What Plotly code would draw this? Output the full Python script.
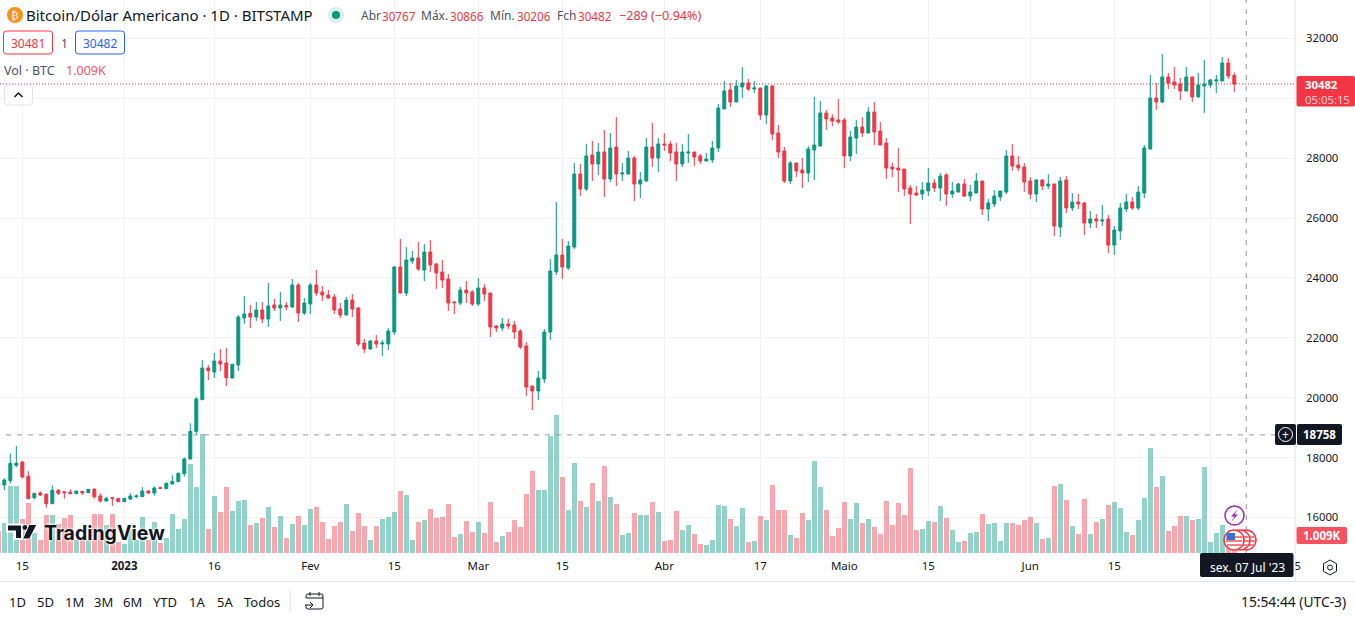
import pandas as pd
import plotly.graph_objects as go

W, H = 1355, 617
FONT = "Noto Sans"
UP = "#089981"
DOWN = "#f23645"
INK = "#131722"

start_date = "2022-12-11"

opens = [
    17138,17082,17227,17739,17851,17372,16659,16815,16770,16459,16904,16859,16848,16793,16871,16826,16937,16715,16548,16659,16637,
    16525,16614,16692,16692,16882,16815,16993,16960,17116,17194,17461,17951,18875,19933,20991,20858,21225,21158,20657,21092,22662,22818,22695,22929,22628,23096,22996,23085,23029,23764,22829,
    23130,23764,23531,23430,23363,22963,22762,23263,22996,21827,21626,21893,21793,21793,22194,24366,23497,24566,24667,24266,24867,24466,24199,23965,23196,23163,23597,23531,
    23130,23664,23497,22395,22328,22461,22428,22227,21726,20390,20223,20624,22194,24199,24767,24332,25034,27473,26972,28108,27807,28208,27306,28375,27473,27473,28008,27139,27239,28375,28008,
    28475,28475,28208,27807,28175,28208,28075,27908,27941,28342,29645,30280,29879,30380,30514,30313,30346,29444,30413,28843,28242,27239,27841,27607,27507,28275,28409,29511,29344,29277,
    29277,28074,28675,29043,28842,29544,28909,28508,27706,27673,27640,27005,26838,26804,26905,27172,27005,27439,26804,26871,27138,26737,26838,27239,26303,26470,26704,26871,28074,27773,27706,
    27239,26804,27272,27071,27138,25702,27272,26337,26537,26504,25835,25969,25902,25969,25100,25568,26303,26537,26337,26838,28308,30012,29878,30714,30547,30480,30246,30714,30046,30413,
    30447,30580,30580,31182,30767,
]
highs = [
    17194,17305,18140,18385,17884,17539,16810,16871,16804,17071,16949,16871,16937,16885,16885,16949,16982,16804,16692,16670,16648,
    16648,16804,16770,17015,16915,17038,17027,17171,17405,17505,18007,19143,20022,21259,21092,21492,21626,21660,21125,22762,23397,23096,23196,23196,23831,23297,23531,23196,23965,23831,23330,
    23831,24266,23731,23597,23464,23163,23363,23464,23029,21960,21927,22094,21927,22328,24399,25301,25034,24900,25201,25134,25268,24499,24600,24132,23230,23698,23898,23597,
    23998,23798,23497,22428,22662,22628,22562,22294,21860,20390,20891,22294,24633,26538,25301,25234,27841,27807,28475,28576,28509,28943,28843,29378,27841,28242,28075,27540,28676,29177,28676,
    28843,28576,28509,28475,28810,28208,28141,28175,28576,29812,30580,30514,30614,31048,30647,30580,30346,30447,30447,29110,28375,27908,27841,28008,28409,30046,29912,29611,29478,29979,
    29344,28909,29277,29377,29711,29878,29210,28675,27840,28341,27640,27105,27071,27205,27673,27305,27506,27506,27205,27172,27305,27105,27506,27239,26637,26938,26905,28274,28475,28074,27840,
    27372,27305,27305,27472,27138,27372,27406,26838,26804,26537,26236,26136,26437,26103,25735,26504,26805,26704,27072,28442,30781,30513,31482,30847,31048,30680,31048,30714,30847,31282,
    30647,30781,31382,31349,30866,
]
lows = [
    17027,16915,17138,17672,17305,16610,16603,16715,16325,16450,16748,16626,16770,16782,16748,16815,16626,16492,16525,16381,16514,
    16514,16581,16648,16680,16782,16726,16949,16949,17100,17182,17361,17940,18786,19922,20590,20657,20891,20390,20650,20891,22461,22328,22562,22495,22361,22896,22562,22929,22996,22528,22762,
    22795,23397,23230,23297,22795,22662,22750,22695,21726,21492,21615,21660,21392,21593,22094,23480,23397,24466,24232,23898,24199,23631,23664,22896,22795,23096,23163,23063,
    23063,23230,22027,22194,22227,22294,21960,21626,20056,19588,19922,20490,21927,24098,23965,24266,24967,26738,26905,27239,27440,26705,27206,27072,27239,27460,26571,26671,27220,27707,27540,
    28242,27907,27239,27707,27841,27741,27807,27890,27841,28208,29640,29712,29870,30012,30246,30179,29277,29144,28609,28008,27172,27139,27373,27005,27206,27273,28400,28943,29077,29144,
    27673,27907,28141,28709,28830,28441,28430,27305,27372,26871,26737,25802,26737,26604,26737,26871,26570,26403,26671,26860,26704,26570,26825,26103,25902,26370,26570,26804,27573,27573,26871,
    26637,26537,26938,26971,25401,25368,26170,26236,26303,25435,25668,25668,25735,24833,24766,25268,26203,26270,26270,26671,28300,29611,29845,30313,30313,29945,30235,29878,30035,29511,
    30346,30179,30570,30647,30206,
]
closes = [
    17082,17249,17806,17806,17349,16626,16804,16748,16459,16904,16804,16826,16793,16882,16815,16937,16692,16548,16637,16637,16525,
    16637,16715,16715,16882,16815,16982,16971,17138,17205,17472,17951,18875,19956,20991,20902,21225,21125,20668,21114,22695,22795,22695,22929,22628,23063,22996,23096,23029,23764,22829,23163,
    23764,23497,23430,23330,22929,22762,23263,22963,21793,21626,21893,21793,21827,22227,24366,23497,24600,24667,24299,24867,24433,24165,23931,23163,23174,23597,23497,23130,
    23664,23464,22361,22328,22461,22395,22194,21693,20356,20223,20657,22194,24232,24767,24366,25067,27473,26972,28075,27807,28208,27306,28342,27473,27507,28008,27139,27273,28375,28008,28475,
    28442,28175,27807,28208,28208,28041,27908,27974,28342,29678,30246,29879,30413,30514,30313,30346,29444,30413,28810,28208,27239,27841,27573,27507,28308,28442,29511,29311,29244,29211,
    28074,28709,29043,28842,29544,28876,28441,27673,27640,27606,26971,26804,26771,26938,27172,27005,27406,26804,26905,27138,26737,26871,27239,26303,26504,26737,26905,28074,27740,27673,27205,
    26804,27272,27071,27138,25735,27239,26337,26537,26470,25835,25969,25902,25936,25100,25601,26337,26537,26337,26871,28342,30012,29878,30714,30513,30447,30246,30714,30046,30447,30480,
    30614,30614,31182,30747,30482,
]
# volume in thousands of BTC
volumes = [
    1.31,1.78,3.98,3.98,2.02,2.97,1.17,0.77,2.26,2.26,1.72,2.08,2.26,0.77,0.77,0.77,2.32,2.32,1.66,2.32,0.65,
    0.53,1.37,0.77,2.14,0.77,1.84,0.59,0.89,2.32,1.43,2.02,5.29,3.92,7.07,1.43,3.39,2.44,3.92,2.49,3.09,3.15,1.66,1.78,2.08,2.73,1.54,2.20,0.89,1.72,2.20,1.66,
    2.61,2.73,1.84,0.83,1.60,1.84,2.91,1.31,2.38,1.60,0.77,1.60,2.02,2.14,2.44,3.68,3.45,0.77,1.84,1.96,2.61,2.08,2.14,2.91,0.95,1.13,1.90,1.25,
    1.84,1.19,3.03,0.65,1.01,1.25,1.96,1.54,3.50,4.87,3.74,3.74,6.95,8.20,4.51,2.55,5.35,3.09,2.73,4.16,3.09,5.17,3.33,2.91,1.07,1.19,2.38,2.26,2.26,3.03,2.44,
    0.71,0.77,2.49,1.37,1.66,1.13,0.53,0.48,0.77,2.85,2.79,2.02,1.60,2.67,0.65,0.71,2.20,1.96,4.04,2.55,2.55,1.07,0.89,2.38,1.96,5.46,3.92,2.55,1.01,1.49,
    3.03,2.02,2.97,1.78,2.02,1.54,1.13,3.09,1.66,2.97,2.26,5.05,1.37,1.43,1.90,1.84,2.79,2.08,1.37,0.65,0.71,1.19,1.25,2.32,1.72,1.78,0.71,1.78,1.78,1.66,1.96,
    2.14,1.78,0.83,0.89,3.98,4.10,3.15,1.60,1.13,3.21,1.13,1.84,2.02,2.85,3.03,2.67,1.25,1.07,1.96,3.27,6.24,3.92,4.57,1.31,1.60,2.20,2.20,1.96,2.02,5.11,
    0.65,1.19,1.66,0.97,1.009,
]

assert len({len(opens), len(highs), len(lows), len(closes), len(volumes)}) == 1, (
    len(opens), len(highs), len(lows), len(closes), len(volumes))

last_price = 30482
crosshair_price = 18758
crosshair_date = "2023-07-07"

time_ticks = ["2022-12-15", "2023-01-01", "2023-01-16", "2023-02-01", "2023-02-15", "2023-03-01", "2023-03-15",
              "2023-04-01", "2023-04-17", "2023-05-01", "2023-05-15", "2023-06-01", "2023-06-15", "2023-07-01", "2023-07-15"]
# the July label sits under the crosshair date box in the picture
time_labels = ["15", "<b>2023</b>", "16", "Fev", "15", "Mar", "15", "Abr", "17", "Maio", "15", "Jun", "15", "", "15"]
price_ticks = [16000, 18000, 20000, 22000, 24000, 26000, 28000, 30000, 32000]
# 30000 sits under the red last price tag
price_labels = ["16000", "18000", "20000", "22000", "24000", "26000", "28000", "", "32000"]
range_buttons = ["1D", "5D", "1M", "3M", "6M", "YTD", "1A", "5A", "Todos"]
button_centres = [17, 45, 74, 103, 132, 165, 197, 225, 262]

dates = pd.date_range(start_date, periods=len(opens), freq="D")
vol_colors = ["rgba(8,153,129,0.43)" if c >= o else "rgba(242,54,69,0.43)" for o, c in zip(opens, closes)]


def px(x):
    return x / W


def py(y):
    return 1 - y / H


def label(x, y, text, size=12, color=INK, anchor="left", font=FONT, **extra):
    fig.add_annotation(x=px(x), y=py(y), xref="paper", yref="paper", text=text, showarrow=False,
                       xanchor=anchor, yanchor="middle", borderpad=0, borderwidth=0, align=anchor if anchor != "center" else "center",
                       font=dict(family=font, size=size, color=color, **extra))


def box(x0, y0, x1, y1, fill="rgba(0,0,0,0)", line=None, width=1, r=0):
    if r:
        path = (f"M {px(x0 + r)} {py(y0)} L {px(x1 - r)} {py(y0)} Q {px(x1)} {py(y0)} {px(x1)} {py(y0 + r)} "
                f"L {px(x1)} {py(y1 - r)} Q {px(x1)} {py(y1)} {px(x1 - r)} {py(y1)} "
                f"L {px(x0 + r)} {py(y1)} Q {px(x0)} {py(y1)} {px(x0)} {py(y1 - r)} "
                f"L {px(x0)} {py(y0 + r)} Q {px(x0)} {py(y0)} {px(x0 + r)} {py(y0)} Z")
        fig.add_shape(type="path", path=path, xref="paper", yref="paper", fillcolor=fill,
                      line=dict(color=line or fill, width=width if line else 0))
    else:
        fig.add_shape(type="rect", x0=px(x0), x1=px(x1), y0=py(y0), y1=py(y1), xref="paper", yref="paper",
                      fillcolor=fill, line=dict(color=line or fill, width=width if line else 0))


def circle(cx, cy, r, fill="rgba(0,0,0,0)", line=None, width=1):
    fig.add_shape(type="circle", x0=px(cx - r), x1=px(cx + r), y0=py(cy - r), y1=py(cy + r),
                  xref="paper", yref="paper", fillcolor=fill,
                  line=dict(color=line or fill, width=width if line else 0))


def poly(points, fill="rgba(0,0,0,0)", line=None, width=1, closed=True):
    path = "M " + " L ".join(f"{px(x)} {py(y)}" for x, y in points) + (" Z" if closed else "")
    fig.add_shape(type="path", path=path, xref="paper", yref="paper", fillcolor=fill,
                  line=dict(color=line or fill, width=width if line else 0))


fig = go.Figure()
fig.add_trace(go.Bar(x=dates, y=volumes, marker=dict(color=vol_colors, line=dict(width=0)),
                     width=5 / 6 * 86400000, yaxis="y", hoverinfo="skip"))
fig.add_trace(go.Candlestick(x=dates, open=opens, high=highs, low=lows, close=closes, yaxis="y2",
                             whiskerwidth=0,
                             increasing=dict(line=dict(color=UP, width=1), fillcolor=UP),
                             decreasing=dict(line=dict(color=DOWN, width=1), fillcolor=DOWN)))

pane_bottom = 1 - 553 / H
fig.update_layout(
    width=W, height=H, autosize=False, margin=dict(l=0, r=0, t=0, b=0, autoexpand=False),
    paper_bgcolor="white", plot_bgcolor="white", showlegend=False, bargap=0, boxgap=0.3,
    font=dict(family=FONT, size=12, color=INK),
    xaxis=dict(domain=[0, 1295 / W], type="date", range=["2022-12-11 06:43", "2023-07-15 02:53"],
               tickmode="array", tickvals=time_ticks, ticktext=time_labels, ticks="", ticklabelstandoff=4,
               showgrid=True, gridcolor="#f1f2f4", gridwidth=1, showline=False, zeroline=False,
               rangeslider=dict(visible=False), tickfont=dict(size=11.5, color=INK)),
    yaxis=dict(domain=[pane_bottom, 1], range=[0, 32.85], visible=False, showgrid=False, fixedrange=True),
    yaxis2=dict(domain=[pane_bottom, 1], overlaying="y", side="right", anchor="x", range=[14811, 33286],
                tickmode="array", tickvals=price_ticks, ticktext=price_labels, ticks="", ticklabelstandoff=10,
                showgrid=True, gridcolor="#f1f2f4", gridwidth=1, showline=False, zeroline=False,
                tickfont=dict(size=11.3, color=INK)),
)

# price and crosshair lines
fig.add_shape(type="line", xref="paper", yref="y2", x0=0, x1=px(1295), y0=last_price, y1=last_price,
              line=dict(color=DOWN, width=1, dash="1px,2px"))
fig.add_shape(type="line", xref="paper", yref="y2", x0=px(6), x1=px(1295), y0=crosshair_price, y1=crosshair_price,
              line=dict(color="#9598a1", width=1, dash="5px,6px"))
fig.add_shape(type="line", xref="x", yref="paper", x0=crosshair_date, x1=crosshair_date, y0=pane_bottom, y1=1,
              line=dict(color="#9598a1", width=1, dash="5px,6px"))

# frame lines
fig.add_shape(type="line", xref="paper", yref="paper", x0=px(1295), x1=px(1295), y0=py(581), y1=1,
              line=dict(color="#e0e3eb", width=1))
fig.add_shape(type="line", xref="paper", yref="paper", x0=0, x1=1, y0=py(581.5), y1=py(581.5),
              line=dict(color="#e0e3eb", width=1))

# header
circle(15, 15, 8, fill="#f7931a")
label(15, 15, "₿", size=11, color="white", anchor="center", font="DejaVu Sans")
label(26, 15.5, "Bitcoin/Dólar Americano · 1D · BITSTAMP", size=15)
circle(336, 15, 8, fill="#d9f0ec")
circle(336, 15, 4, fill=UP)
for x, key, x2, value in [(361, "Abr", 382, "30767"), (421, "Máx.", 450, "30866"),
                          (490, "Mín.", 516.5, "30206"), (556.5, "Fch", 578, "30482")]:
    label(x, 16, key, size=12, color="#50535e")
    label(x2, 16, value, size=11.7, color=DOWN)
label(618.5, 16, "−289 (−0.94%)", size=12.6, color=DOWN)

box(3.5, 31, 52.5, 54, fill="white", line=DOWN, width=1, r=3)
label(28, 43, "30481", size=12, color=DOWN, anchor="center")
label(64, 43, "1", size=12, color="#50535e", anchor="center")
box(75.5, 31, 124.5, 54, fill="white", line="#2962ff", width=1, r=3)
label(100, 43, "30482", size=12, color="#2962ff", anchor="center")

label(4, 71, "Vol · BTC", size=12.5, color="#50535e")
label(65.5, 71, "1.009K", size=12.5, color="#f7525f")

box(4.5, 85, 32.5, 105, fill="white", line="#e0e3eb", width=1, r=3)
poly([(14.5, 97), (18.5, 93), (22.5, 97)], line=INK, width=1.5, closed=False)

# right side tags
box(1296.5, 76, 1355, 106.5, fill=DOWN, r=2)
label(1305, 91.5, "<b>30482</b><br><span style='color:#fbd0d3'>05:05:15</span>", size=11.3, color="white")
box(1275, 424, 1296, 445, fill=INK, r=2)
circle(1285.5, 434.5, 7, line="white", width=1)
label(1285.5, 434, "+", size=12, color="white", anchor="center")
box(1297, 424, 1342, 445, fill=INK, r=2)
label(1319.5, 434.5, "<b>18758</b>", size=11.5, color="white", anchor="center")
box(1296.5, 527, 1347, 544, fill="#f7525f", r=2)
label(1322, 535.5, "<b>1.009K</b>", size=11.5, color="white", anchor="center")
box(1200, 553, 1293.5, 577, fill=INK, r=2)
label(1247, 567, "sex. 07 Jul '23", size=12, color="white", anchor="center")

# event icons
circle(1234.5, 515.5, 9.5, fill="white", line="#9c27b0", width=1.5)
poly([(1238, 509), (1231, 516.5), (1234.5, 516.5), (1231, 522), (1238, 514.5), (1234.5, 514.5)], fill="#9c27b0")
for cx in [1246, 1240]:
    circle(cx, 540, 10, fill="white", line=DOWN, width=1.5)
    box(cx + 1, 536, cx + 8, 538, fill="#f77c80")
    box(cx + 1, 540, cx + 9, 542, fill="#f77c80")
    box(cx + 1, 544, cx + 7, 546, fill="#f77c80")
circle(1234, 540, 10, fill="white", line=DOWN, width=1.5)
box(1228, 536, 1242, 538, fill="#f77c80")
box(1226, 540, 1242, 542, fill="#f77c80")
box(1227, 544, 1241, 546, fill="#f77c80")
box(1226.5, 533, 1235, 540, fill="#3a6fd8")

# logo
logo = "#131722"
poly([(7, 524.5), (22, 524.5), (22, 539), (15, 539), (15, 531.5), (7, 531.5)], fill=logo, line="white", width=2)
circle(25, 527.5, 3, fill=logo, line="white", width=1)
poly([(29, 524.5), (37, 524.5), (29.5, 539), (22.5, 539)], fill=logo, line="white", width=1)
label(44, 532.5, "<b>TradingView</b>", size=19.5, color=logo, font="Inter", shadow="white 0 0 3px, white 0 0 3px")

# settings hexagon
poly([(1330, 560), (1336.5, 563.7), (1336.5, 571.3), (1330, 575), (1323.5, 571.3), (1323.5, 563.7)], line="#131722", width=1)
circle(1330, 567.5, 2.5, line="#131722", width=1)

# bottom toolbar
for text, cx in zip(range_buttons, button_centres):
    label(cx, 601.5, text, size=13, anchor="center")
fig.add_shape(type="line", xref="paper", yref="paper", x0=px(290), x1=px(290), y0=py(590), y1=py(612),
              line=dict(color="#e0e3eb", width=1))
box(306, 594, 323, 609, line=INK, width=1, r=2)
box(303, 598, 313, 605, fill="white")
fig.add_shape(type="line", xref="paper", yref="paper", x0=px(306), x1=px(323), y0=py(598), y1=py(598), line=dict(color=INK, width=1))
fig.add_shape(type="line", xref="paper", yref="paper", x0=px(310), x1=px(310), y0=py(592), y1=py(596), line=dict(color=INK, width=1))
fig.add_shape(type="line", xref="paper", yref="paper", x0=px(319), x1=px(319), y0=py(592), y1=py(596), line=dict(color=INK, width=1))
poly([(305, 605), (313, 605)], line=INK, width=1, closed=False)
poly([(310, 602), (313, 605), (310, 608)], line=INK, width=1, closed=False)
label(1346, 601.5, "15:54:44 (UTC-3)", size=13.8, anchor="right")

# the page's default body margin would push the figure off the window
fig.write_html("out.html", config=dict(displayModeBar=False),
               post_script="document.body.style.margin='0';document.documentElement.style.overflow='hidden';")
